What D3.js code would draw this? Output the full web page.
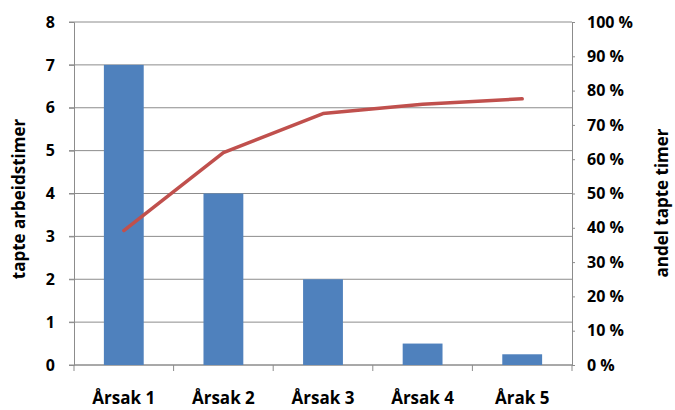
<!DOCTYPE html>
<html>
<head>
<meta charset="utf-8">
<script src="https://cdnjs.cloudflare.com/ajax/libs/d3/7.8.5/d3.min.js"></script>
<style>
  body { margin: 0; background: #fff; }
  text { font-family: "Open Sans", Lato, sans-serif; font-weight: bold; fill: #000; }
</style>
</head>
<body>
<div id="chart"></div>
<script>
'use strict'

// chart data
var categories = ['Årsak 1', 'Årsak 2', 'Årsak 3', 'Årsak 4', 'Årak 5']
var hours = [7, 4, 2, 0.5, 0.25]
var share = [0.392, 0.619, 0.733, 0.760, 0.776]
var left_ticks = [0, 1, 2, 3, 4, 5, 6, 7, 8]
var right_ticks = [0, 0.1, 0.2, 0.3, 0.4, 0.5, 0.6, 0.7, 0.8, 0.9, 1]

var W = 675, H = 410
var margin = {top: 22, right: 103, bottom: 45, left: 74}
var width = W - margin.left - margin.right
var height = H - margin.top - margin.bottom

var svg = d3.select('#chart').append('svg')
  .attr('width', W)
  .attr('height', H)
var g = svg.append('g')
  .attr('transform', 'translate(' + margin.left + ',' + margin.top + ')')

var scale_x = d3.scaleBand()
  .domain(categories)
  .range([0, width])
  .paddingInner(0.6)
  .paddingOuter(0.3)

var scale_y = d3.scaleLinear().domain([0, 8]).range([height, 0])
var scale_p = d3.scaleLinear().domain([0, 1]).range([height, 0])

// gridlines
g.selectAll('.grid')
  .data(left_ticks)
  .enter().append('line')
  .attr('x1', -5)
  .attr('x2', width)
  .attr('y1', function(d) { return scale_y(d) })
  .attr('y2', function(d) { return scale_y(d) })
  .attr('stroke', '#8c8c8c')
  .attr('stroke-width', 1)

// left axis
var yAxis = g.append('g')
  .call(d3.axisLeft(scale_y).tickValues(left_ticks).tickSize(5).tickPadding(14))
yAxis.select('.domain').attr('stroke', '#8c8c8c')
yAxis.selectAll('line').attr('stroke', '#8c8c8c')
yAxis.selectAll('text').style('font-size', '16px')

// right axis
var pAxis = g.append('g')
  .attr('transform', 'translate(' + width + ',0)')
  .call(d3.axisRight(scale_p).tickValues(right_ticks).tickSize(3).tickPadding(12)
    .tickFormat(function(d) { return Math.round(d * 100) + ' %' }))
pAxis.select('.domain').attr('stroke', '#8c8c8c')
pAxis.selectAll('line').attr('stroke', '#8c8c8c')
pAxis.selectAll('text').style('font-size', '16px')

// x axis
var xAxis = g.append('g')
  .attr('transform', 'translate(0,' + height + ')')
xAxis.append('line')
  .attr('x1', 0).attr('x2', width)
  .attr('stroke', '#8c8c8c')
xAxis.selectAll('.xtick')
  .data(d3.range(categories.length + 1))
  .enter().append('line')
  .attr('x1', function(i) { return i * width / categories.length })
  .attr('x2', function(i) { return i * width / categories.length })
  .attr('y1', 0).attr('y2', 6)
  .attr('stroke', '#8c8c8c')
xAxis.selectAll('.xlabel')
  .data(categories)
  .enter().append('text')
  .attr('x', function(d) { return scale_x(d) + scale_x.bandwidth() / 2 })
  .attr('y', 39)
  .attr('text-anchor', 'middle')
  .style('font-size', '17px')
  .text(function(d) { return d })

// bars
g.selectAll('.bar')
  .data(hours)
  .enter().append('rect')
  .attr('x', function(d, i) { return scale_x(categories[i]) })
  .attr('width', scale_x.bandwidth())
  .attr('y', function(d) { return scale_y(d) })
  .attr('height', function(d) { return height - scale_y(d) })
  .attr('fill', '#4f81bd')

// cumulative line
var line = d3.line()
  .x(function(d, i) { return scale_x(categories[i]) + scale_x.bandwidth() / 2 })
  .y(function(d) { return scale_p(d) })
g.append('path')
  .datum(share)
  .attr('d', line)
  .attr('fill', 'none')
  .attr('stroke', '#c0504d')
  .attr('stroke-width', 3.5)
  .attr('stroke-linecap', 'round')
  .attr('stroke-linejoin', 'round')

// axis titles
svg.append('text')
  .attr('transform', 'translate(25,199) rotate(-90)')
  .attr('text-anchor', 'middle')
  .style('font-size', '17px')
  .text('tapte arbeidstimer')
svg.append('text')
  .attr('transform', 'translate(668,203) rotate(-90)')
  .attr('text-anchor', 'middle')
  .style('font-size', '17px')
  .text('andel tapte timer')
</script>
</body>
</html>
